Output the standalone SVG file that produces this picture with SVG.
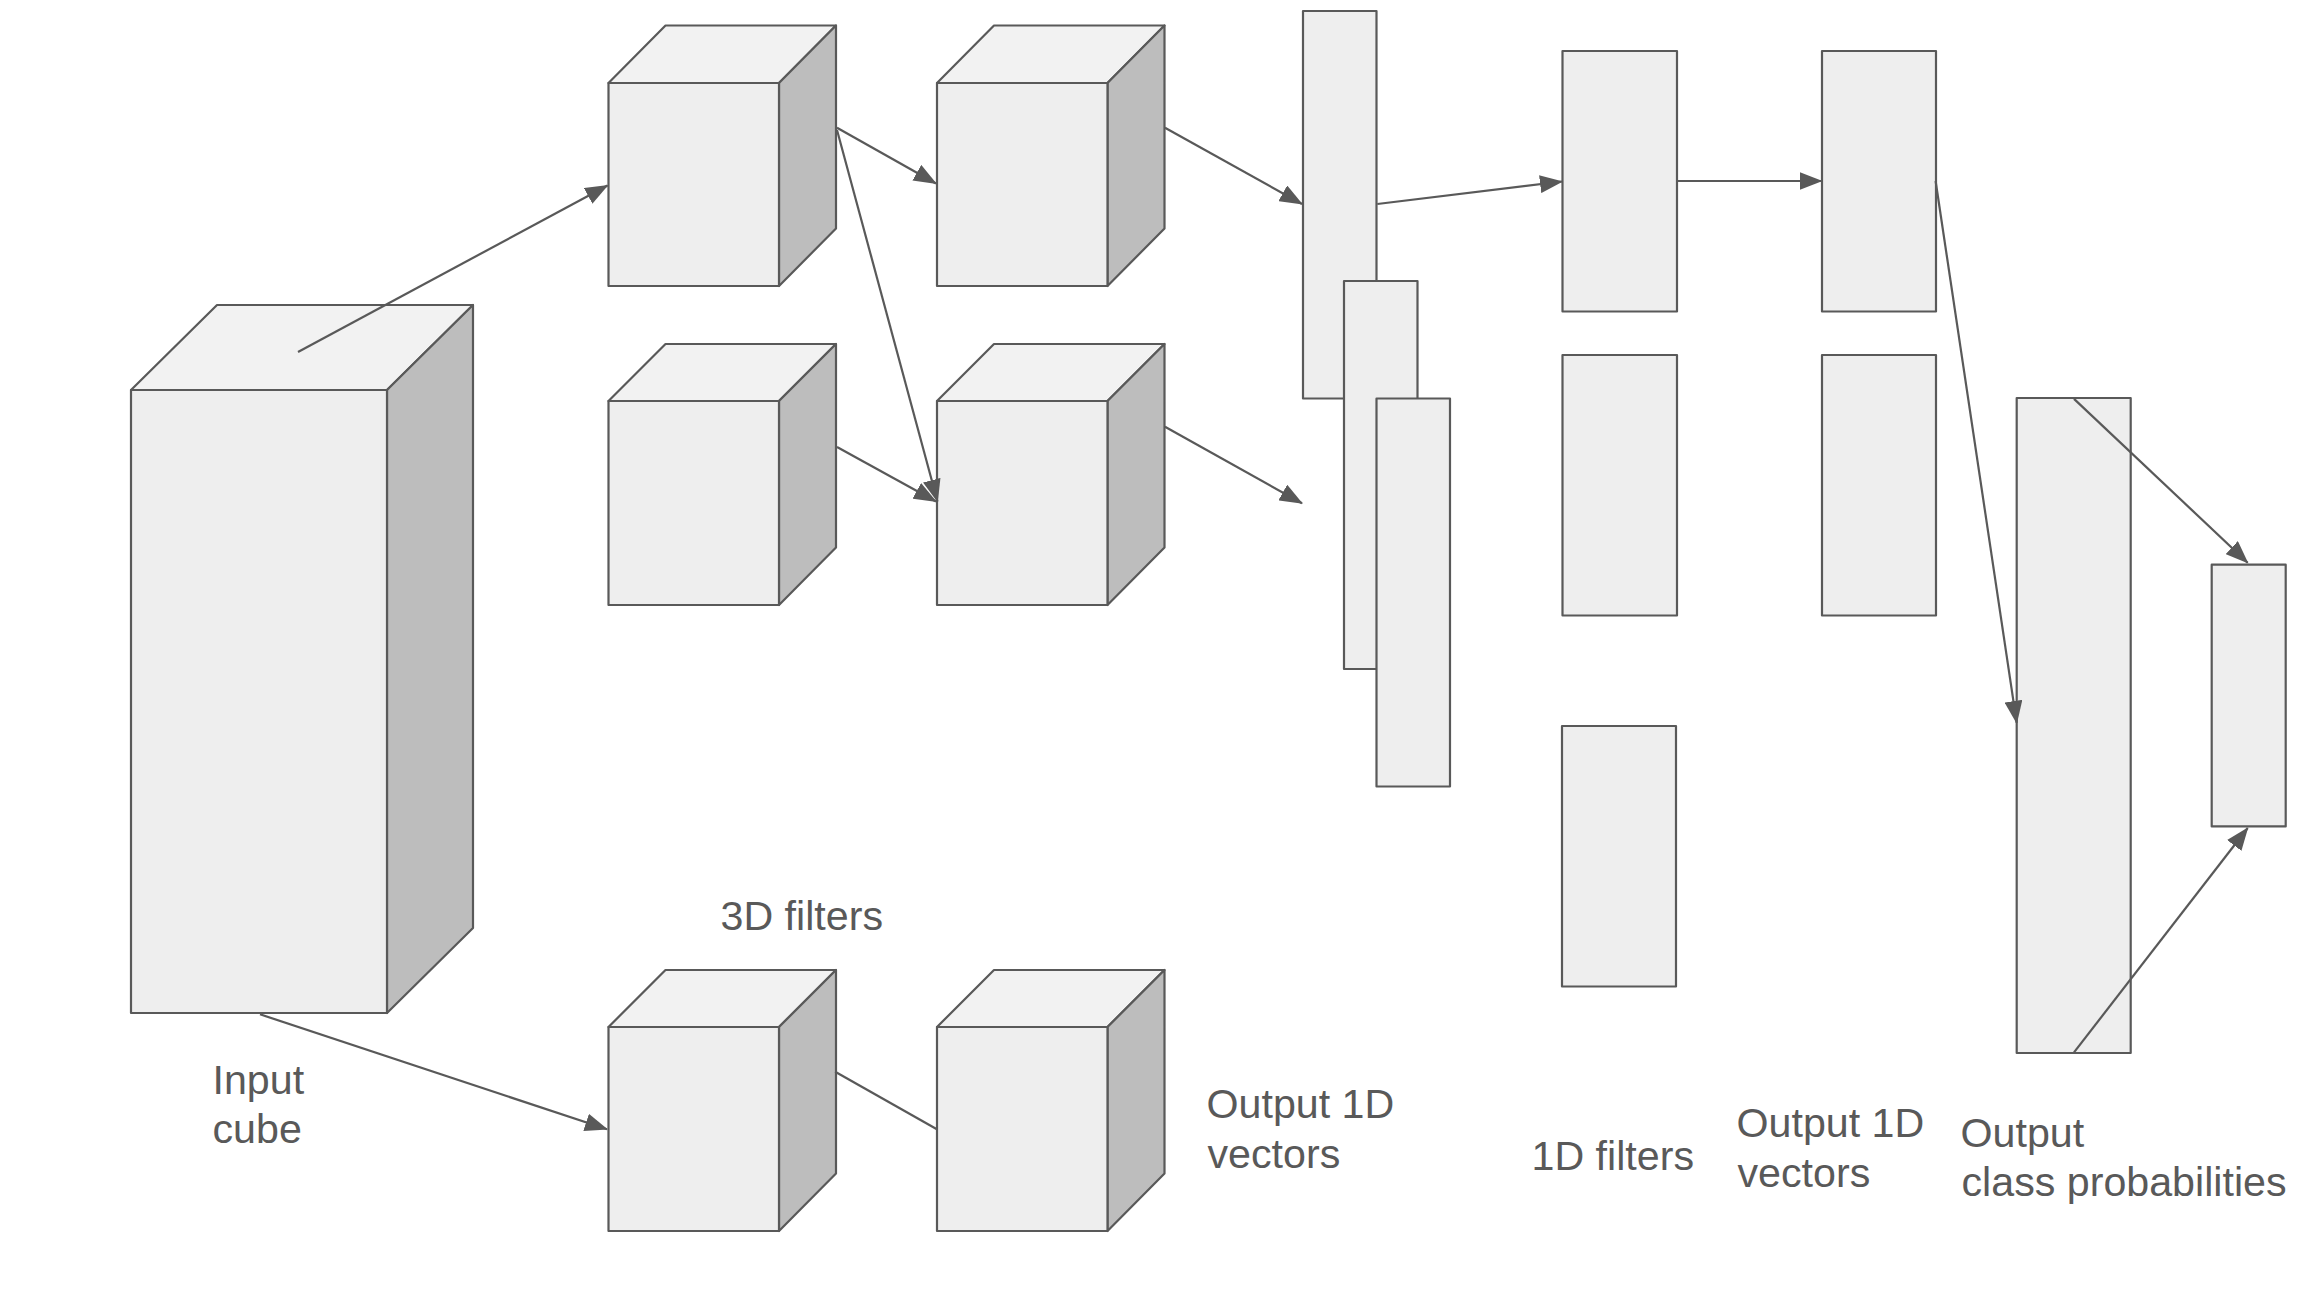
<svg xmlns="http://www.w3.org/2000/svg" width="2310" height="1310" viewBox="0 0 2310 1310">
<style>
.f{fill:#eeeeee;stroke:#595959;stroke-width:2.2;stroke-linejoin:round}
.t{fill:#f2f2f2;stroke:#595959;stroke-width:2.2;stroke-linejoin:round}
.s{fill:#bdbdbd;stroke:#595959;stroke-width:2.2;stroke-linejoin:round}
.c{fill:none;stroke:#595959;stroke-width:2.2}
.a{marker-end:url(#ah)}
text{font-family:"Liberation Sans",Arial,sans-serif;font-size:41.2px;fill:#595959}
</style>
<defs>
<marker id="ah" markerUnits="userSpaceOnUse" markerWidth="24" markerHeight="18" refX="22" refY="9" orient="auto">
<path d="M0,0 L23,9 L0,18 z" fill="#595959"/>
</marker>
</defs>
<rect width="2310" height="1310" fill="#ffffff"/>
<g id="input-cube">
<polygon class="t" points="131,390 217,305 473,305 387,390"/>
<polygon class="s" points="387,390 473,305 473,928 387,1013"/>
<rect class="f" x="131" y="390" width="256" height="623"/>
</g>
<g id="cube1">
<polygon class="t" points="608.5,83 665.5,25.5 836,25.5 779,83"/>
<polygon class="s" points="779,83 836,25.5 836,228.5 779,286"/>
<rect class="f" x="608.5" y="83" width="170.5" height="203"/>
</g>
<g id="cube2">
<polygon class="t" points="937,83 994,25.5 1164.5,25.5 1107.5,83"/>
<polygon class="s" points="1107.5,83 1164.5,25.5 1164.5,228.5 1107.5,286"/>
<rect class="f" x="937" y="83" width="170.5" height="203"/>
</g>
<g id="cube3">
<polygon class="t" points="608.5,401 665.5,344 836,344 779,401"/>
<polygon class="s" points="779,401 836,344 836,547.5 779,605"/>
<rect class="f" x="608.5" y="401" width="170.5" height="204"/>
</g>
<g id="cube4">
<polygon class="t" points="937,401 994,344 1164.5,344 1107.5,401"/>
<polygon class="s" points="1107.5,401 1164.5,344 1164.5,547.5 1107.5,605"/>
<rect class="f" x="937" y="401" width="170.5" height="204"/>
</g>
<g id="cube5">
<polygon class="t" points="608.5,1027 665.5,970 836,970 779,1027"/>
<polygon class="s" points="779,1027 836,970 836,1173.5 779,1231"/>
<rect class="f" x="608.5" y="1027" width="170.5" height="204"/>
</g>
<g id="cube6">
<polygon class="t" points="937,1027 994,970 1164.5,970 1107.5,1027"/>
<polygon class="s" points="1107.5,1027 1164.5,970 1164.5,1173.5 1107.5,1231"/>
<rect class="f" x="937" y="1027" width="170.5" height="204"/>
</g>
<g id="vec-a"><rect class="f" x="1303" y="11" width="73.5" height="387.5"/></g>
<g id="vec-b"><rect class="f" x="1344" y="281" width="73.5" height="388"/></g>
<g id="vec-c"><rect class="f" x="1376.5" y="398.5" width="73.5" height="388"/></g>
<g id="filter1d-1"><rect class="f" x="1562.5" y="51" width="114.5" height="260.5"/></g>
<g id="filter1d-2"><rect class="f" x="1562.5" y="355" width="114.5" height="260.5"/></g>
<g id="filter1d-3"><rect class="f" x="1562" y="726" width="114" height="260.5"/></g>
<g id="out1d-1"><rect class="f" x="1822" y="51" width="114" height="260.5"/></g>
<g id="out1d-2"><rect class="f" x="1822" y="355" width="114" height="260.5"/></g>
<g id="dense"><rect class="f" x="2016.7" y="398" width="114" height="655"/></g>
<g id="probs"><rect class="f" x="2211.7" y="564.7" width="74" height="261.7"/></g>
<g id="connectors">
<line class="c a" x1="298" y1="352" x2="607.5" y2="185.5"/>
<line class="c a" x1="837" y1="127.7" x2="936" y2="183.5"/>
<line class="c a" x1="837" y1="130" x2="937.5" y2="501.5"/>
<line class="c a" x1="837" y1="447" x2="936" y2="501.5"/>
<line class="c a" x1="1165" y1="127.7" x2="1302" y2="204"/>
<line class="c a" x1="1165" y1="426.7" x2="1302" y2="503.3"/>
<line class="c a" x1="1377.3" y1="204" x2="1562" y2="181.5"/>
<line class="c a" x1="1677" y1="181" x2="1821.5" y2="181"/>
<line class="c a" x1="1935.6" y1="181" x2="2016.7" y2="722.9"/>
<line class="c a" x1="2074" y1="398.9" x2="2247.7" y2="562.7"/>
<line class="c a" x1="2074" y1="1052.4" x2="2247.7" y2="828"/>
<line class="c a" x1="260" y1="1014.3" x2="607" y2="1129.3"/>
<line class="c" x1="835.2" y1="1071.7" x2="936.9" y2="1129.3"/>
</g>
<g id="labels">
<text x="212.5" y="1093.5">Input</text>
<text x="212.5" y="1142.5">cube</text>
<text x="720.5" y="930">3D filters</text>
<text x="1206.5" y="1117.5">Output 1D</text>
<text x="1207.5" y="1167.5">vectors</text>
<text x="1531.5" y="1169.5">1D filters</text>
<text x="1736.5" y="1136.5">Output 1D</text>
<text x="1737.5" y="1186.5">vectors</text>
<text x="1960.5" y="1146.5">Output</text>
<text x="1961.5" y="1195.5">class probabilities</text>
</g>
</svg>
